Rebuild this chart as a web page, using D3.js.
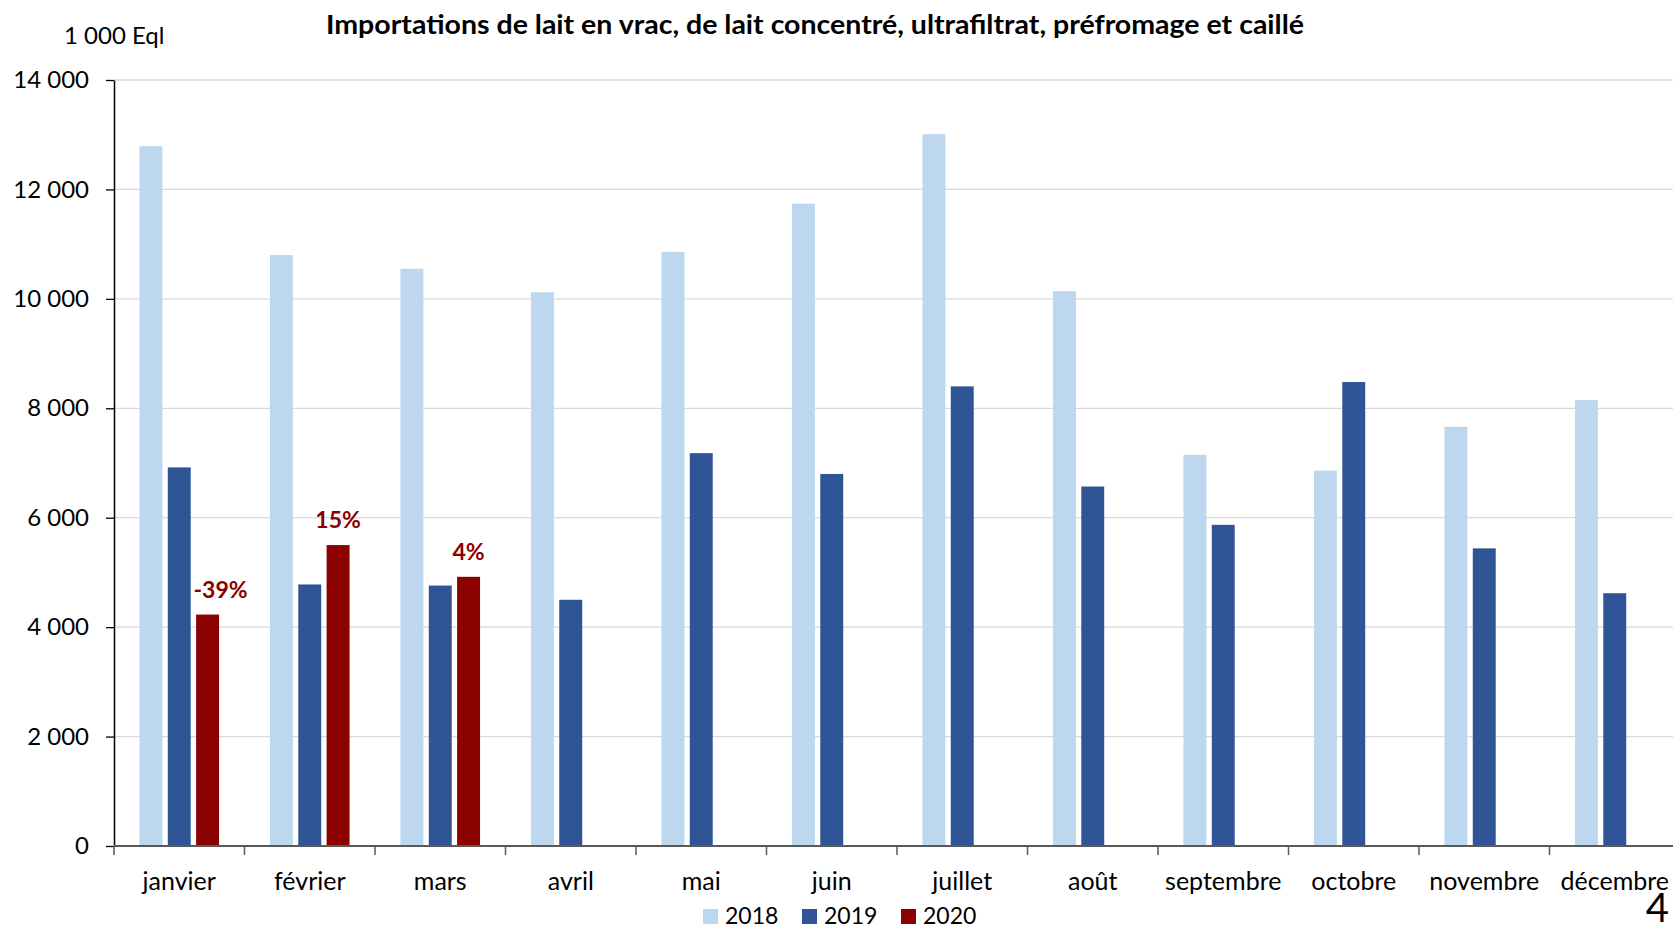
<!DOCTYPE html>
<html><head><meta charset="utf-8">
<script src="https://cdn.jsdelivr.net/npm/d3@7"></script>
<style>body{margin:0;background:#fff;} svg{display:block;font-family:Lato,"Open Sans",sans-serif;}</style>
</head><body><svg id="c" width="1673" height="930"></svg>
<script>
const months = ["janvier","février","mars","avril","mai","juin","juillet","août","septembre","octobre","novembre","décembre"];
const seriesNames = ["2018","2019","2020"];
const v2018 = [12790,10800,10550,10120,10860,11740,13010,10140,7150,6860,7660,8150];
const v2019 = [6920,4780,4760,4500,7180,6800,8400,6570,5870,8480,5440,4620];
const v2020 = [4230,5500,4920,null,null,null,null,null,null,null,null,null];
const labels2020 = ["-39%","15%","4%"];
const yTicks = [0,2000,4000,6000,8000,10000,12000,14000];
const colors = ["#BDD7EE","#2F5597","#8B0000"];

const svg = d3.select("#c");
const x0 = d3.scaleBand().domain(months).range([114,1680]).paddingInner(0).paddingOuter(0);
const bw = x0.bandwidth();
const x1 = d3.scaleBand().domain(seriesNames).range([bw*0.195, bw*0.805]).paddingInner(0.19).paddingOuter(0);
const y = d3.scaleLinear().domain([0,14000]).range([846,80]);
const fmt = d => d3.format(",")(d).replace(/,/g," ");

// grid
svg.append("g").selectAll("line").data(yTicks.filter(d=>d>0)).join("line")
  .attr("x1",114).attr("x2",1673).attr("y1",d=>y(d)).attr("y2",d=>y(d))
  .attr("stroke","#d9d9d9").attr("stroke-width",1.3);

// bars
const data = [];
months.forEach((m,i)=>{
  [v2018,v2019,v2020].forEach((arr,j)=>{ if(arr[i]!=null) data.push({m,s:seriesNames[j],v:arr[i],j}); });
});
svg.append("g").selectAll("rect").data(data).join("rect")
  .attr("x",d=>x0(d.m)+x1(d.s)).attr("width",x1.bandwidth())
  .attr("y",d=>y(d.v)).attr("height",d=>y(0)-y(d.v))
  .attr("fill",d=>colors[d.j]);

// 2020 labels
const lblOffsets = [13,0,0];
svg.append("g").selectAll("text").data(labels2020).join("text")
  .attr("x",(d,i)=>x0(months[i])+x1("2020")+x1.bandwidth()/2+lblOffsets[i])
  .attr("y",(d,i)=>y(v2020[i])-17)
  .attr("text-anchor","middle").attr("font-weight","bold").attr("font-size",23)
  .attr("fill","#8B0000").text(d=>d);

// y axis
const ya = svg.append("g").attr("transform","translate(114,0)")
  .call(d3.axisLeft(y).tickValues(yTicks).tickFormat(fmt).tickSize(8).tickSizeOuter(0));
ya.select(".domain").attr("stroke","#000").attr("stroke-width",1.5);
ya.selectAll(".tick line").attr("stroke","#000").attr("stroke-width",1.3);
ya.selectAll(".tick text").attr("font-size",24).attr("fill","#000").attr("x",-25).attr("font-family","Lato");

// x axis
const xa = svg.append("g").attr("transform","translate(0,846)")
  .call(d3.axisBottom(x0).tickSize(0).tickSizeOuter(0));
xa.select(".domain").attr("stroke","#595959").attr("stroke-width",2).attr("d","M114,0H1673");
xa.selectAll(".tick text").attr("font-size",25).attr("fill","#000").attr("dy","0").attr("y",44).attr("font-family","Lato");
svg.append("g").selectAll("line").data(months).join("line")
  .attr("x1",d=>x0(d)).attr("x2",d=>x0(d)).attr("y1",846).attr("y2",855)
  .attr("stroke","#595959").attr("stroke-width",1.5);

// title
svg.append("text").attr("x",815).attr("y",34).attr("text-anchor","middle")
  .attr("font-weight","bold").attr("font-size",26).attr("fill","#000")
  .attr("textLength",978).attr("lengthAdjust","spacingAndGlyphs")
  .text("Importations de lait en vrac, de lait concentré, ultrafiltrat, préfromage et caillé");
svg.append("text").attr("x",64).attr("y",44).attr("font-size",24).attr("fill","#000").text("1 000 Eql");

// legend
const lg = svg.append("g").selectAll("g").data(seriesNames).join("g")
  .attr("transform",(d,i)=>`translate(${703+i*99},909)`);
lg.append("rect").attr("width",15).attr("height",15).attr("fill",(d,i)=>colors[i]);
lg.append("text").attr("x",22).attr("y",15).attr("font-size",23).attr("fill","#000").text(d=>d);

// page number
svg.append("text").attr("x",1669).attr("y",922).attr("text-anchor","end").attr("font-size",40).attr("fill","#000").text("4");
</script></body></html>
